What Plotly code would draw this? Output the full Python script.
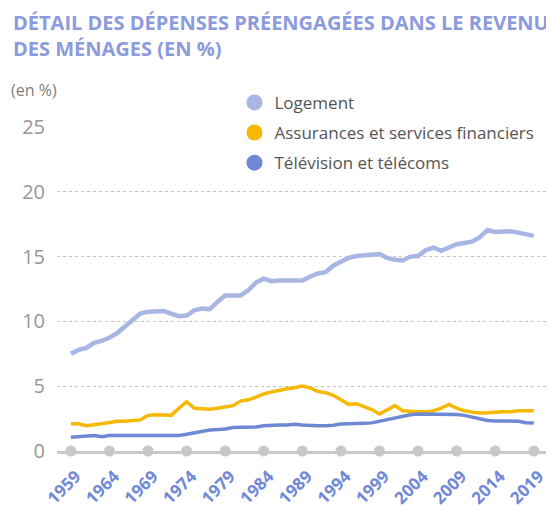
import plotly.graph_objects as go

years = list(range(1959, 2020))

logement = [7.5, 7.8, 7.95, 8.35, 8.5, 8.75, 9.1, 9.6, 10.1, 10.6,
            10.75, 10.8, 10.8, 10.6, 10.4, 10.45, 10.85, 11.0, 10.95, 11.5,
            12.0, 12.0, 12.0, 12.4, 13.0, 13.3, 13.1, 13.15, 13.15, 13.15,
            13.15, 13.45, 13.7, 13.8, 14.3, 14.6, 14.9, 15.05, 15.1, 15.15,
            15.2, 14.9, 14.75, 14.7, 15.0, 15.05, 15.5, 15.7, 15.45, 15.7,
            15.95, 16.05, 16.15, 16.5, 17.05, 16.9, 16.95, 16.95, 16.85, 16.7,
            16.6]

assurances = [2.1, 2.1, 1.95, 2.0, 2.1, 2.2, 2.3, 2.3, 2.35, 2.4,
              2.75, 2.8, 2.78, 2.75, 3.3, 3.8, 3.3, 3.25, 3.22, 3.3,
              3.4, 3.5, 3.85, 3.95, 4.15, 4.4, 4.55, 4.7, 4.8, 4.88,
              5.02, 4.87, 4.6, 4.5, 4.3, 3.95, 3.6, 3.65, 3.4, 3.2,
              2.85, 3.2, 3.5, 3.1, 3.05, 3.02, 3.02, 3.1, 3.3, 3.6,
              3.3, 3.1, 3.0, 2.93, 2.95, 3.0, 3.02, 3.02, 3.1, 3.1,
              3.1]

television = [1.07, 1.1, 1.15, 1.2, 1.1, 1.2, 1.2, 1.2, 1.2, 1.2,
              1.2, 1.2, 1.2, 1.2, 1.2, 1.3, 1.4, 1.5, 1.62, 1.65,
              1.7, 1.82, 1.83, 1.83, 1.85, 1.95, 2.0, 2.0, 2.0, 2.07,
              2.0, 1.95, 1.95, 1.95, 1.98, 2.08, 2.12, 2.13, 2.15, 2.17,
              2.3, 2.42, 2.6, 2.72, 2.8, 2.85, 2.85, 2.85, 2.85, 2.85,
              2.82, 2.75, 2.62, 2.5, 2.35, 2.32, 2.3, 2.3, 2.3, 2.18,
              2.17]

series_names = ["Logement", "Assurances et services financiers", "Télévision et télécoms"]

tick_years = [1959, 1964, 1969, 1974, 1979, 1984, 1989, 1994, 1999, 2004, 2009, 2014, 2019]
tick_labels = [str(y) for y in tick_years]
tick_zero = [0] * len(tick_years)
y_ticks = [0, 5, 10, 15, 20, 25]

C_LOG = "#A8B6E4"
C_ASS = "#F6B800"
C_TV = "#6F88D3"
C_TITLE = "#8C9BDC"
colors = [C_LOG, C_ASS, C_TV]
widths = [4.5, 3.5, 3.5]

fig = go.Figure()

# axis dots
fig.add_trace(go.Scatter(
    x=tick_years, y=tick_zero, mode="markers",
    marker=dict(color="#C8C8C8", size=11),
    showlegend=False, cliponaxis=False, hoverinfo="skip"))

for name, vals, col, w in zip(series_names, [logement, assurances, television], colors, widths):
    fig.add_trace(go.Scatter(x=years, y=vals, mode="lines", name=name,
                             line=dict(color=col, width=w), showlegend=False,
                             legendgroup=name))

# legend entries as round markers
for name, col in zip(series_names, colors):
    fig.add_trace(go.Scatter(x=[None], y=[None], mode="markers", name=name,
                             marker=dict(color=col, size=18), legendgroup=name,
                             showlegend=True))

# white box behind legend that hides gridlines
fig.add_shape(type="rect", xref="paper", yref="paper",
              x0=0.30, x1=1.02, y0=0.78, y1=1.12,
              fillcolor="white", line=dict(width=0), layer="between")

# the page body adds an 8px offset, so the figure is 8px smaller
fig.update_layout(
    width=546, height=502,
    margin=dict(l=49, r=4, t=119, b=59, autoexpand=False),
    paper_bgcolor="white", plot_bgcolor="white",
    font=dict(family="Open Sans, sans-serif"),
    legend=dict(x=0.36, xanchor="left", y=1.13, yanchor="top",
                bgcolor="rgba(0,0,0,0)",
                font=dict(size=17, color="#555555"),
                itemsizing="trace", tracegroupgap=5),
    xaxis=dict(range=[1957.2, 2021.1], tickvals=tick_years,
               ticktext=["<b>" + t + "</b>" for t in tick_labels],
               tickangle=-45, showgrid=False, zeroline=False,
               showline=True, linecolor="#C8C8C8", linewidth=2.5,
               tickfont=dict(size=17, color="#7088D6", family="Open Sans, sans-serif"),
               ticks="", ticklabelstandoff=6, ticklabelshift=5,
               automargin=False, fixedrange=True),
    yaxis=dict(range=[0, 25], tickvals=y_ticks, showgrid=True,
               gridcolor="#C4C4C4", griddash="dot", gridwidth=1,
               zeroline=False, ticks="", ticklabelstandoff=11,
               tickfont=dict(size=20, color="#9A9694"),
               automargin=False, fixedrange=True),
    showlegend=True,
)

fig.add_annotation(
    text="<b>DÉTAIL DES DÉPENSES PRÉENGAGÉES DANS LE REVENU<br>DES MÉNAGES (EN %)</b>",
    xref="paper", yref="paper", x=-0.093, xanchor="left", y=1.37, yanchor="top",
    align="left", showarrow=False,
    font=dict(size=20, color=C_TITLE, family="Open Sans, sans-serif"))

fig.add_annotation(text="(en %)", xref="paper", yref="paper",
                   x=-0.097, xanchor="left", y=1.114, yanchor="middle",
                   showarrow=False, font=dict(size=16, color="#808080"))

fig.write_html("out.html")
